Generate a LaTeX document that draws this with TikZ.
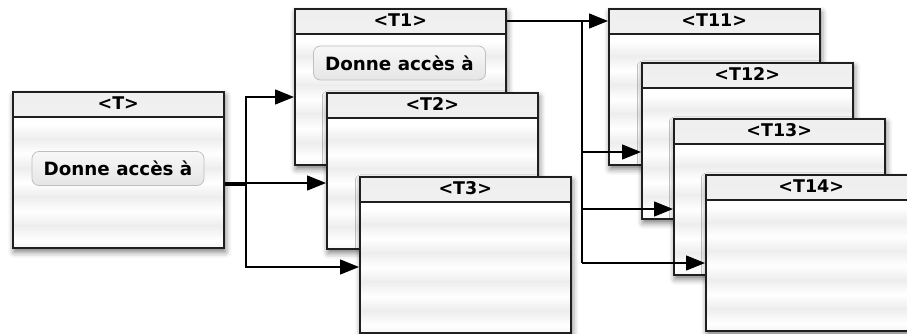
\documentclass[tikz,border=0pt]{standalone}
\usepackage{fontspec}
\setmainfont{DejaVu Sans}
\usetikzlibrary{arrows.meta,shadows.blur,calc}
\colorlet{sg}{gray!14}
\tikzset{
  tbox/.style={draw=black!88, line width=1.5pt, minimum width=211pt, minimum height=156pt,
    anchor=north west, inner sep=0pt, fill=white,
    blur shadow={shadow xshift=1.5pt, shadow yshift=-4pt, shadow blur radius=6pt, shadow opacity=55},
    path picture={
      \shade[top color=gray!13, bottom color=gray!3]
        (path picture bounding box.north west) rectangle ([yshift=-25pt]path picture bounding box.north east);
      \foreach \k in {0,1,2,3,4}{
        \shade[top color=white, bottom color=white, middle color=sg]
          ([yshift={-25pt-7.5pt-29pt*\k}]path picture bounding box.north west) rectangle
          ([yshift={-25pt-36.5pt-29pt*\k}]path picture bounding box.north east);
      }
      \draw[line width=1.5pt, black!88] ([yshift=-25pt]path picture bounding box.north west) -- ([yshift=-25pt]path picture bounding box.north east);
    }},
  ttitle/.style={font=\fontsize{17.5}{19}\selectfont\bfseries, inner sep=0pt},
  btn/.style={draw=gray!50, line width=0.8pt, rounded corners=7pt, top color=gray!6, bottom color=gray!20,
    minimum width=172pt, minimum height=34pt, inner sep=0pt, font=\fontsize{18.3}{20}\selectfont\bfseries},
  conn/.style={draw=black, line width=1.4pt},
  arr/.style={conn, -{Triangle[length=19pt,width=15pt]}}
}
\newcommand\tablebox[4]{%
  \node[tbox] (#1) at (#2,#3) {};
  \node[ttitle] (#1t) at ($(#1.north)+(0,-12.5pt)$) {#4};
}
\begin{document}
\begin{tikzpicture}[x=1pt,y=-1pt]
\useasboundingbox (0,0) rectangle (907,333);
\tablebox{T}{12}{91}{<T>}
\node[btn] (Tb) at (118,168.5) {Donne accès à};
\tablebox{T1}{294}{8}{<T1>}
\node[btn] (T1b) at (399.5,63) {Donne accès à};
\tablebox{T2}{326}{92}{<T2>}
\tablebox{T3}{359}{176}{<T3>}
\tablebox{T11}{608}{8}{<T11>}
\tablebox{T12}{641}{62}{<T12>}
\tablebox{T13}{673}{118}{<T13>}
\tablebox{T14}{705}{174}{<T14>}
% connectors from T
\coordinate (a0) at (T.east |- 0,183);
\coordinate (a1) at (T.east |- 0,185);
\coordinate (aj) at (246,185);
\draw[arr] (a0) -- (T2.west |- a0);
\draw[conn] (a1) -- (aj);
\draw[arr] (aj) |- (T1.west |- 0,97);
\draw[arr] (aj) |- (T3.west |- 0,267);
% connectors from T1
\coordinate (bj) at (582,21);
\draw[arr] (T1.east |- bj) -- (T11.west |- bj);
\draw[conn] (bj) -- (582,263);
\draw[arr] (582,152) -- (T12.west |- 0,152);
\draw[arr] (582,209) -- (T13.west |- 0,209);
\draw[arr] (582,263) -- (T14.west |- 0,263);
\end{tikzpicture}
\end{document}
